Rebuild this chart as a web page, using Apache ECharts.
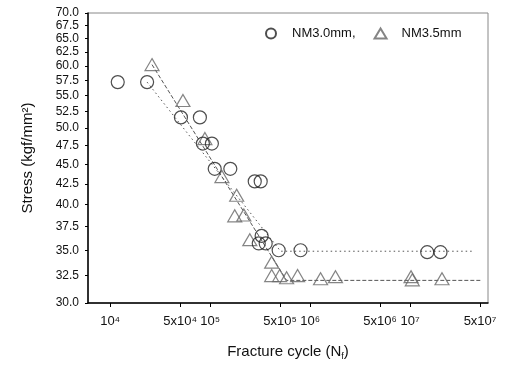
<!DOCTYPE html>
<html><head><meta charset="utf-8">
<script src="https://cdn.jsdelivr.net/npm/echarts@6/dist/echarts.min.js"></script>
<style>html,body{margin:0;padding:0;background:#fff}#c{width:506px;height:366px}</style>
</head><body><div id="c"></div>
<script>
// NM3.0mm (circles): fracture cycles and stress
const nm30Cycles = [11900, 23400, 51000, 78900, 84500, 104000, 111000, 159000, 279000, 320000, 327000, 306000, 359000, 484000, 801000, 14800000, 20100000];
const nm30Stress = [57.2, 57.2, 51.6, 51.6, 47.8, 47.8, 44.4, 44.4, 42.8, 42.8, 36.5, 35.7, 35.7, 35.0, 35.0, 34.8, 34.8];
// NM3.5mm (triangles)
const nm35Cycles = [26200, 53400, 88500, 131000, 184000, 176000, 217000, 249000, 412000, 412000, 495000, 581000, 748000, 1270000, 1790000, 10200000, 10500000, 20800000];
const nm35Stress = [60.2, 54.2, 48.5, 43.4, 41.1, 38.7, 38.8, 36.1, 33.8, 32.5, 32.5, 32.3, 32.5, 32.2, 32.4, 32.4, 32.1, 32.2];
// fitted trend lines
const fit30Cycles = [23400, 506000, 41500000];
const fit30Stress = [57.2, 34.9, 34.9];
const fit35Cycles = [26200, 581000, 51000000];
const fit35Stress = [60.2, 32.05, 32.05];
// ticks
const xTicks = [1e4, 5e4, 1e5, 5e5, 1e6, 5e6, 1e7, 5e7];
const xTickLabels = ['10\u2074', '5x10\u2074', '10\u2075', '5x10\u2075', '10\u2076', '5x10\u2076', '10\u2077', '5x10\u2077'];
const yTicks = [30, 32.5, 35, 37.5, 40, 42.5, 45, 47.5, 50, 52.5, 55, 57.5, 60, 62.5, 65, 67.5, 70];

const zip = (a, b) => a.map((v, i) => [v, b[i]]);
const FONT = 'Liberation Sans, Arial, sans-serif';
const chart = echarts.init(document.getElementById('c'), null, {renderer: 'canvas'});
chart.setOption({
  animation: false,
  backgroundColor: '#fff',
  textStyle: {fontFamily: FONT, color: '#111'},
  grid: {left: 88, right: 18, top: 13, bottom: 62, show: true, borderColor: '#888', borderWidth: 1},
  legend: {
    left: 260, top: 22, itemWidth: 12, itemHeight: 10, itemGap: 18,
    textStyle: {fontFamily: FONT, fontSize: 13, color: '#111', padding: [0, 0, 0, 10]},
    data: ['NM3.0mm', 'NM3.5mm'],
    formatter: n => n === 'NM3.0mm' ? 'NM3.0mm,' : n
  },
  xAxis: {
    type: 'log', logBase: 10, min: 6000, max: 60000000,
    name: 'Fracture cycle (N{sub|f})', nameLocation: 'middle', nameGap: 40,
    nameTextStyle: {fontFamily: FONT, fontSize: 15, color: '#111', lineHeight: 18,
      rich: {sub: {fontFamily: FONT, fontSize: 9, color: '#111', verticalAlign: 'bottom', lineHeight: 18, padding: [6, 0, 0, 0]}}},
    axisLine: {show: true, lineStyle: {color: '#000', width: 1.5}},
    axisTick: {show: true, inside: false, length: 4, customValues: xTicks, lineStyle: {color: '#000'}},
    minorTick: {show: false},
    axisLabel: {customValues: xTicks, fontFamily: FONT, fontSize: 13, color: '#111', margin: 12,
      formatter: v => { const i = xTicks.findIndex(t => Math.abs(Math.log10(t) - Math.log10(v)) < 1e-6); return i >= 0 ? xTickLabels[i] : ''; }},
    splitLine: {show: false}
  },
  yAxis: {
    type: 'log', logBase: 10, min: 30, max: 70,
    name: 'Stress (kgf/mm\u00B2)', nameLocation: 'middle', nameGap: 53, nameRotate: 90,
    nameTextStyle: {fontFamily: FONT, fontSize: 15, color: '#111'},
    axisLine: {show: true, lineStyle: {color: '#000', width: 1.5}},
    axisTick: {show: true, inside: false, length: 3, customValues: yTicks, lineStyle: {color: '#000'}},
    axisLabel: {customValues: yTicks, fontFamily: FONT, fontSize: 12, color: '#111', margin: 9,
      formatter: v => (+v).toFixed(1)},
    splitLine: {show: false}
  },
  series: [
    {name: 'fit30', type: 'line', data: zip(fit30Cycles, fit30Stress), symbol: 'none', silent: true,
      lineStyle: {color: '#555', width: 1, type: [1.5, 3]}, z: 1},
    {name: 'fit35', type: 'line', data: zip(fit35Cycles, fit35Stress), symbol: 'none', silent: true,
      lineStyle: {color: '#555', width: 1, type: [4, 2]}, z: 1},
    {name: 'NM3.0mm', type: 'scatter', data: zip(nm30Cycles, nm30Stress), symbol: 'circle', symbolSize: 13,
      itemStyle: {color: 'rgba(0,0,0,0)', borderColor: '#222', borderWidth: 1.2}, z: 3},
    {name: 'NM3.5mm', type: 'scatter', data: zip(nm35Cycles, nm35Stress), symbol: 'triangle', symbolSize: [14, 12],
      itemStyle: {color: 'rgba(0,0,0,0)', borderColor: '#666', borderWidth: 1.2}, z: 2}
  ]
});
</script></body></html>
